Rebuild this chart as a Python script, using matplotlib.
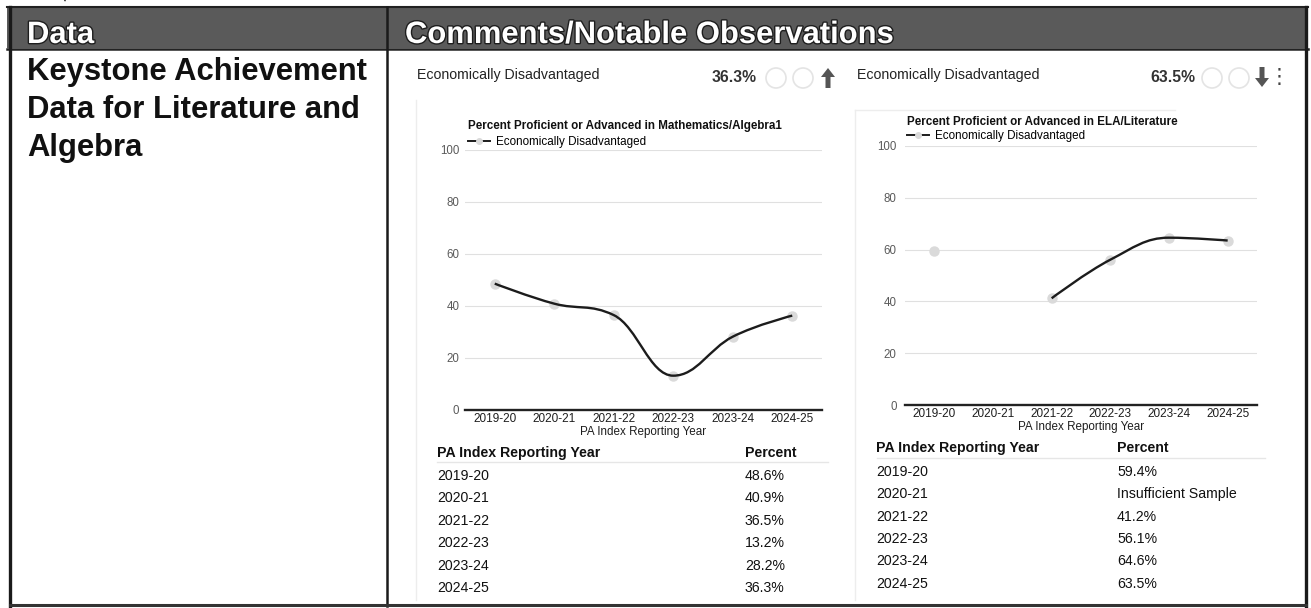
import matplotlib
matplotlib.use("Agg")
from matplotlib import pyplot as plt
from matplotlib.path import Path
from matplotlib.patches import PathPatch, Rectangle, Circle, FancyArrow, Arc
from matplotlib.lines import Line2D
import matplotlib.patheffects as pe

plt.rcParams['font.family'] = ['Liberation Sans', 'DejaVu Sans']

# dados
anos = ['2019-20', '2020-21', '2021-22', '2022-23', '2023-24', '2024-25']
algebra = [48.6, 40.9, 36.5, 13.2, 28.2, 36.3]
literatura = [59.4, None, 41.2, 56.1, 64.6, 63.5]
grupo = 'Economically Disadvantaged'
titulo_alg = 'Percent Proficient or Advanced in Mathematics/Algebra1'
titulo_lit = 'Percent Proficient or Advanced in ELA/Literature'
eixo_x = 'PA Index Reporting Year'
yticks = [0, 20, 40, 60, 80, 100]

W, H = 1311, 608
fig = plt.figure(figsize=(W / 100, H / 100), dpi=100)
bg = fig.add_axes([0, 0, 1, 1])
bg.set_xlim(0, W)
bg.set_ylim(H, 0)
bg.axis('off')


def eixo_px(x0, y0, x1, y1):
    return fig.add_axes([x0 / W, 1 - y1 / H, (x1 - x0) / W, (y1 - y0) / H])


# spline no estilo highcharts (suavizacao 1.5)
def spline(xs, ys, s=1.5):
    n = len(xs)
    esq = [(xs[i], ys[i]) for i in range(n)]
    dir_ = [(xs[i], ys[i]) for i in range(n)]
    d = s + 1
    for i in range(1, n - 1):
        x, y = xs[i], ys[i]
        lx, ly = xs[i - 1], ys[i - 1]
        nx, ny = xs[i + 1], ys[i + 1]
        lcx = (s * x + lx) / d
        lcy = (s * y + ly) / d
        rcx = (s * x + nx) / d
        rcy = (s * y + ny) / d
        corr = (rcy - lcy) * (rcx - x) / (rcx - lcx) + y - rcy
        lcy += corr
        rcy += corr
        if lcy > ly and lcy > y:
            lcy = max(ly, y); rcy = 2 * y - lcy
        elif lcy < ly and lcy < y:
            lcy = min(ly, y); rcy = 2 * y - lcy
        if rcy > ny and rcy > y:
            rcy = max(ny, y); lcy = 2 * y - rcy
        elif rcy < ny and rcy < y:
            rcy = min(ny, y); lcy = 2 * y - rcy
        esq[i] = (lcx, lcy)
        dir_[i] = (rcx, rcy)
    verts = [(xs[0], ys[0])]
    codes = [Path.MOVETO]
    for i in range(1, n):
        verts += [dir_[i - 1], esq[i], (xs[i], ys[i])]
        codes += [Path.CURVE4] * 3
    return Path(verts, codes)


def segmentos(vals):
    segs, atual = [], []
    for i, v in enumerate(vals):
        if v is None:
            if atual:
                segs.append(atual)
            atual = []
        else:
            atual.append((i, v))
    if atual:
        segs.append(atual)
    return segs


def grafico(box, vals, titulo, tit_xy, leg_xy, ypad):
    ax = eixo_px(*box)
    ax.set_xlim(-0.5, len(anos) - 0.5)
    ax.set_ylim(0, 100)
    ax.patch.set_alpha(0)
    for s in ['top', 'right', 'left']:
        ax.spines[s].set_visible(False)
    ax.spines['bottom'].set(color='#222222', lw=1.7)
    ax.set_yticks(yticks)
    ax.set_xticks(range(len(anos)))
    ax.set_xticklabels(anos)
    ax.tick_params(axis='y', length=0, labelsize=8.3, labelcolor='#5a5a5a', pad=ypad)
    ax.tick_params(axis='x', length=0, labelsize=8.5, labelcolor='#1e1e1e', pad=2)
    ax.yaxis.grid(True, color='#e0e0e0', lw=0.8)
    ax.set_axisbelow(True)
    ax.set_xlabel(eixo_x, fontsize=8.4, color='#1e1e1e', labelpad=1)
    for seg in segmentos(vals):
        xs = [p[0] for p in seg]
        ys = [p[1] for p in seg]
        ax.plot(xs, ys, 'o', ms=6.5, color='#dadada', zorder=3)
        if len(seg) > 1:
            ax.add_patch(PathPatch(spline(xs, ys), fc='none', ec='#1c1c1c', lw=1.7, zorder=4))
    bg.text(tit_xy[0], tit_xy[1], titulo, fontsize=8.4, fontweight='bold', va='center', color='#111111')
    h = Line2D([], [], color='#1c1c1c', lw=1.4, marker='o', ms=4, mfc='#dadada', mec='#dadada')
    ax.legend(handles=[h], labels=[grupo], loc='center left',
              bbox_to_anchor=(leg_xy[0] / W, 1 - leg_xy[1] / H), bbox_transform=fig.transFigure,
              frameon=False, fontsize=8.4, handlelength=1.9, handletextpad=0.5,
              borderpad=0, borderaxespad=0, numpoints=1)
    return ax


def tabela(x_ano, x_val, y_cab, y0, dy, vals, linha):
    bg.text(x_ano, y_cab, eixo_x, fontsize=10.2, fontweight='bold', va='center', color='#111111')
    bg.text(x_val, y_cab, 'Percent', fontsize=10.2, fontweight='bold', va='center', color='#111111')
    bg.plot(linha[:2], [linha[2]] * 2, color='#e6e6e6', lw=1)
    for i, (a, v) in enumerate(zip(anos, vals)):
        txt = 'Insufficient Sample' if v is None else f'{v:.1f}%'
        bg.text(x_ano, y0 + i * dy, a, fontsize=10.2, va='center', color='#111111')
        bg.text(x_val, y0 + i * dy, txt, fontsize=10.2, va='center', color='#111111')


def cabecalho_card(x_txt, x_pct, x_circ, x_seta, pct, sobe):
    bg.text(x_txt, 75, grupo, fontsize=10.2, va='center', color='#222222')
    bg.text(x_pct, 77, f'{pct:.1f}%', fontsize=11.3, fontweight='bold', va='center', color='#333333')
    for xc in x_circ:
        bg.add_patch(Circle((xc, 78), 10, fc='none', ec='#e4e4e4', lw=1.2))
    if sobe:
        bg.add_patch(FancyArrow(x_seta, 88, 0, -20, width=5, head_width=14, head_length=9,
                                length_includes_head=True, color='#555555', lw=0))
    else:
        bg.add_patch(FancyArrow(x_seta, 67, 0, 20, width=5, head_width=14, head_length=9,
                                length_includes_head=True, color='#555555', lw=0))


# faixa do cabecalho
bg.add_patch(Rectangle((7, 7), 1301, 41, fc='#5a5a5a', ec='none'))
sombra = [pe.withStroke(linewidth=2, foreground='#1e1e1e')]
bg.text(27, 43, 'Data', fontsize=22.3, fontweight='bold', color='white', path_effects=sombra)
bg.text(405, 43, 'Comments/Notable Observations', fontsize=22.3, fontweight='bold', color='white',
        path_effects=sombra)
# rabisco a caneta acima da tabela
bg.add_patch(Arc((58, 0), 14, 14, theta1=-80, theta2=10, color='#333333', lw=1.2))

# bordas da tabela
bg.plot([7, 1308], [7, 7], color='#222222', lw=1.5)
bg.plot([7, 1308], [48.5, 48.5], color='#222222', lw=1.8)
bg.plot([10, 10], [7, 606], color='#1a1a1a', lw=2.4)
bg.plot([387, 387], [7, 606], color='#1a1a1a', lw=1.8)
bg.plot([1306, 1306], [7, 606], color='#1a1a1a', lw=2.4)
bg.plot([10, 1306], [605, 605], color='#333333', lw=2.2)

# coluna da esquerda
for i, t in enumerate(['Keystone Achievement', 'Data for Literature and', 'Algebra']):
    bg.text(27, 80 + i * 38, t, fontsize=22.3, fontweight='bold', color='#111111')

# bordas suaves dos cards
bg.plot([416, 416], [100, 600], color='#ededed', lw=1)
bg.plot([855, 855], [110, 600], color='#ededed', lw=1)
bg.plot([855, 1175], [110, 110], color='#ededed', lw=1)

cabecalho_card(417, 712, [776, 803], 828, algebra[-1], True)
cabecalho_card(857, 1150, [1212, 1239], 1262, literatura[-1], False)
bg.text(1279, 77, '\u22ee', fontsize=15, va='center', ha='center', color='#444444',
        family='DejaVu Sans')

grafico((465, 150, 822, 410), algebra, titulo_alg, (468, 126), (468, 142), 4)
grafico((905, 146, 1257, 405), literatura, titulo_lit, (907, 122), (907, 136), 6)

tabela(437, 745, 453, 476, 22.4, algebra, (437, 828, 462))
tabela(876, 1117, 448, 472, 22.3, literatura, (877, 1265, 458))

plt.savefig('out.png', dpi=100)
